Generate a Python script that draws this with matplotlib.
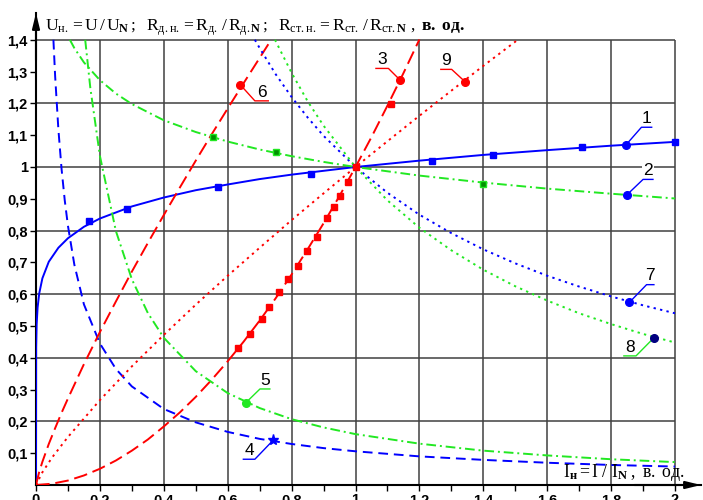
import numpy as np
import matplotlib.pyplot as plt

plt.rcParams['font.family'] = ['Liberation Sans', 'DejaVu Sans']
plt.rcParams['mathtext.fontset'] = 'custom'
plt.rcParams['mathtext.rm'] = 'Liberation Serif'
plt.rcParams['mathtext.it'] = 'Liberation Serif:italic'
plt.rcParams['mathtext.bf'] = 'Liberation Serif:bold'

BLUE = '#0000ff'
RED = '#ff0000'
GREEN = '#22e822'

# 1 - U_н(I_н), solid
x1 = [0, 0.0005, 0.002, 0.005, 0.01, 0.02, 0.04, 0.07, 0.1, 0.15, 0.2, 0.3, 0.4, 0.5,
      0.6, 0.7, 0.8, 0.9, 1.0, 1.2, 1.4, 1.6, 1.8, 2.0]
y1 = [0, 0.433, 0.505, 0.558, 0.602, 0.650, 0.702, 0.746, 0.776, 0.812, 0.838, 0.876,
      0.904, 0.927, 0.945, 0.962, 0.976, 0.988, 1.0, 1.020, 1.038, 1.053, 1.067, 1.079]
x1_mk = [0.166, 0.285, 0.571, 0.86, 1.24, 1.43, 1.71, 2.0]
y1_mk = [0.83, 0.868, 0.938, 0.978, 1.018, 1.038, 1.064, 1.08]

# 2 - dash-dot green
x2 = [0.106, 0.12, 0.15, 0.2, 0.25, 0.3, 0.4, 0.5, 0.6, 0.7, 0.8, 0.9, 1.0, 1.2, 1.4,
      1.6, 1.8, 2.0]
y2 = [1.4, 1.374, 1.329, 1.273, 1.231, 1.198, 1.147, 1.110, 1.080, 1.055, 1.034, 1.016,
      1.0, 0.973, 0.951, 0.932, 0.916, 0.901]
x2_mk = [0.553, 0.751, 1.4]
y2_mk = [1.095, 1.046, 0.948]

# 3 - long dash red with squares
x3 = [0, 0.05, 0.1, 0.15, 0.2, 0.25, 0.3, 0.35, 0.4, 0.45, 0.5, 0.55, 0.6, 0.65, 0.7,
      0.75, 0.8, 0.85, 0.9, 0.95, 1.0, 1.05, 1.1, 1.15, 1.2]
y3 = [0, 0.004, 0.014, 0.030, 0.051, 0.077, 0.108, 0.143, 0.184, 0.228, 0.277, 0.331,
      0.389, 0.451, 0.517, 0.587, 0.662, 0.741, 0.823, 0.909, 1.0, 1.094, 1.193, 1.295,
      1.401]
x3_mk = [0.633, 0.670, 0.706, 0.729, 0.762, 0.790, 0.819, 0.848, 0.879, 0.912, 0.933,
         0.951, 0.977, 1.0, 1.110]
y3_mk = [0.432, 0.474, 0.522, 0.561, 0.606, 0.648, 0.688, 0.736, 0.781, 0.839, 0.875,
         0.910, 0.952, 1.0, 1.198]

# 4 - dashed blue
x4 = [0.0545, 0.06, 0.07, 0.08, 0.09, 0.1, 0.12, 0.15, 0.2, 0.25, 0.3, 0.4, 0.5, 0.6,
      0.7, 0.8, 0.9, 1.0, 1.2, 1.4, 1.6, 1.8, 2.0]
y4 = [1.40, 1.284, 1.119, 0.994, 0.895, 0.815, 0.693, 0.568, 0.445, 0.365, 0.310, 0.239,
      0.197, 0.167, 0.145, 0.129, 0.116, 0.106, 0.090, 0.079, 0.070, 0.063, 0.058]

# 5 - dash-dot green
x5 = [0.154, 0.17, 0.2, 0.25, 0.3, 0.35, 0.4, 0.5, 0.6, 0.7, 0.8, 0.9, 1.0, 1.2, 1.4,
      1.6, 1.8, 2.0]
y5 = [1.40, 1.249, 1.035, 0.799, 0.647, 0.541, 0.463, 0.358, 0.289, 0.242, 0.207,
      0.181, 0.160, 0.130, 0.108, 0.093, 0.081, 0.072]

# 6 - long dash red
x6 = [0, 0.01, 0.02, 0.04, 0.06, 0.08, 0.1, 0.15, 0.2, 0.25, 0.3, 0.35, 0.4, 0.45, 0.5,
      0.55, 0.6, 0.65, 0.7, 0.736]
y6 = [0, 0.041, 0.073, 0.129, 0.179, 0.227, 0.272, 0.380, 0.481, 0.577, 0.671, 0.761,
      0.849, 0.935, 1.020, 1.103, 1.184, 1.264, 1.343, 1.40]

# 7 - dotted blue
x7 = [0.685, 0.7, 0.75, 0.8, 0.85, 0.9, 1.0, 1.1, 1.2, 1.3, 1.4, 1.5, 1.6, 1.7, 1.8,
      1.9, 2.0]
y7 = [1.40, 1.374, 1.292, 1.22, 1.156, 1.098, 1.0, 0.919, 0.850, 0.792, 0.741, 0.697,
      0.658, 0.624, 0.593, 0.565, 0.540]

# 8 - dotted green
x8 = [0.748, 0.8, 0.85, 0.9, 1.0, 1.1, 1.2, 1.3, 1.4, 1.5, 1.6, 1.7, 1.8, 1.9, 2.0]
y8 = [1.40, 1.296, 1.207, 1.130, 1.0, 0.895, 0.809, 0.738, 0.677, 0.625, 0.580, 0.540,
      0.506, 0.475, 0.448]

# 9 - dotted red
x9 = [0, 0.02, 0.05, 0.1, 0.2, 0.3, 0.4, 0.5, 0.6, 0.7, 0.8, 0.9, 1.0, 1.1, 1.2, 1.3,
      1.4, 1.5, 1.507]
y9 = [0, 0.040, 0.086, 0.151, 0.267, 0.373, 0.472, 0.567, 0.658, 0.746, 0.833, 0.917,
      1.0, 1.081, 1.161, 1.240, 1.318, 1.394, 1.40]

xticks = [0, 0.2, 0.4, 0.6, 0.8, 1.0, 1.2, 1.4, 1.6, 1.8, 2.0]
xtick_labels = ['0', '0,2', '0,4', '0,6', '0,8', '1', '1,2', '1,4', '1,6', '1,8', '2']
yticks = [0.1, 0.2, 0.3, 0.4, 0.5, 0.6, 0.7, 0.8, 0.9, 1.0, 1.1, 1.2, 1.3, 1.4]
ytick_labels = ['0,1', '0,2', '0,3', '0,4', '0,5', '0,6', '0,7', '0,8', '0,9', '1',
                '1,1', '1,2', '1,3', '1,4']

# curve labels: number, marker point, elbow point, end of underline
lab_num = ['1', '2', '3', '4', '5', '6', '7', '8', '9']
lab_mark = [(1.847, 1.07), (1.849, 0.912), (1.139, 1.274), (0.743, 0.1415), (0.657, 0.259),
            (0.64, 1.258), (1.857, 0.574), (1.934, 0.463), (1.343, 1.268)]
lab_elbow = [(1.895, 1.125), (1.90, 0.961), (1.103, 1.31), (0.685, 0.081), (0.701, 0.302),
             (0.685, 1.208), (1.911, 0.63), (1.878, 0.406), (1.301, 1.307)]
lab_end = [1.927, 1.931, 1.064, 0.649, 0.732, 0.727, 1.934, 1.84, 1.267]
lab_color = [BLUE, BLUE, RED, BLUE, GREEN, RED, BLUE, GREEN, RED]
lab_mcolor = [BLUE, BLUE, RED, BLUE, GREEN, RED, BLUE, '#000080', RED]

fig = plt.figure(figsize=(7.03, 5.0), dpi=100)
ax = fig.add_axes([36 / 703, 15 / 500, 665 / 703, 472 / 500])
ax.set_xlim(0, 665 / 319.5)
ax.set_ylim(0, 472 / 318)

# grid
grid_x = [0.2, 0.4, 0.6, 0.8, 1.0, 1.2, 1.4, 1.6, 1.8, 2.0]
grid_y = [0.2, 0.4, 0.6, 0.8, 1.0, 1.2, 1.4]
ax.vlines(grid_x, 0, 1.4, color='#404040', lw=1.1, zorder=1)
ax.hlines(grid_y, 0, 2.0, color='#404040', lw=1.1, zorder=1)

lw = 1.4
dash_long = (0, (7, 3))
dash_mid = (0, (5, 3))
dash_dot = (0, (5, 2, 1, 2))
dot = (0, (1.2, 2.2))

ax.plot(x1, y1, color=BLUE, lw=lw, zorder=3)
ax.plot(x1_mk, y1_mk, 's', color=BLUE, ms=4.5, zorder=4)
ax.plot(x2, y2, color=GREEN, lw=lw, ls=dash_dot, zorder=3)
ax.plot(x2_mk, y2_mk, 's', color='#009000', mec=GREEN, ms=4.5, zorder=4)
ax.plot(x3, y3, color=RED, lw=lw, ls=dash_long, zorder=3)
ax.plot(x3_mk, y3_mk, 's', color=RED, ms=5, zorder=4)
ax.plot(x4, y4, color=BLUE, lw=lw, ls=dash_mid, zorder=3)
ax.plot(x5, y5, color=GREEN, lw=lw, ls=dash_dot, zorder=3)
ax.plot(x6, y6, color=RED, lw=lw, ls=dash_long, zorder=3)
ax.plot(x7, y7, color=BLUE, lw=lw, ls=dot, zorder=3)
ax.plot(x8, y8, color=GREEN, lw=lw, ls=dot, zorder=3)
ax.plot(x9, y9, color=RED, lw=lw, ls=dot, zorder=3)

for i in range(len(lab_num)):
    mx, my = lab_mark[i]
    ex, ey = lab_elbow[i]
    ux = lab_end[i]
    ax.plot([mx, ex, ux], [my, ey, ey], color=lab_color[i], lw=1.0, zorder=6)
    mk = '*' if lab_num[i] == '4' else 'o'
    ax.plot(mx, my, mk, color=lab_mcolor[i], ms=5.5 if mk == 'o' else 8, zorder=6)
    ax.text((ex + ux) / 2, ey + 0.004, lab_num[i], ha='center', va='bottom',
            fontsize=12.5, zorder=5,
            bbox=dict(facecolor='white', edgecolor='none', pad=0.5))

# axes
for s in ['top', 'right']:
    ax.spines[s].set_visible(False)
for s in ['left', 'bottom']:
    ax.spines[s].set_linewidth(1.5)
ax.annotate('', xy=(0, 1.0), xytext=(0, 0.9), xycoords='axes fraction',
            arrowprops=dict(arrowstyle='-|>,head_length=0.9,head_width=0.22',
                            color='black', lw=1.5, shrinkA=0, shrinkB=0))
ax.annotate('', xy=(1.0, 0), xytext=(0.9, 0), xycoords='axes fraction',
            arrowprops=dict(arrowstyle='-|>,head_length=0.9,head_width=0.22',
                            color='black', lw=1.5, shrinkA=0, shrinkB=0))

ax.set_yticks(yticks)
ax.set_yticklabels(ytick_labels, fontsize=10.5, fontweight='bold')
ax.set_xticks(xticks)
ax.set_xticklabels(xtick_labels, fontsize=10.5, fontweight='bold')
ax.set_xticks(np.arange(0.1, 2.0, 0.2), minor=True)
ax.tick_params(axis='y', length=4, width=1, pad=2)
ax.tick_params(axis='x', which='both', length=4, width=1, pad=2)

fig.text(45 / 703, 1 - 31 / 500,
         r'$\mathrm{U_{н.}}=\mathrm{U}\,/\,\mathrm{U}_{\mathbf{N}}\,;\ \ '
         r'\mathrm{R_{д.н.}}=\mathrm{R_{д.}}\,/\,\mathrm{R}_{\mathrm{д.}\mathbf{N}}\,;\ \ '
         r'\mathrm{R_{ст.н.}}=\mathrm{R_{ст.}}\,/\,\mathrm{R}_{\mathrm{ст.}\mathbf{N}}\ ,\ '
         r'\mathbf{в.\ од.}$',
         fontsize=12.6, va='baseline', ha='left')
fig.text(563 / 703, 1 - 477 / 500,
         r'$\mathrm{I}_{\mathbf{н}}=\mathrm{I}\ /\ \mathrm{I}_{\mathbf{N}}\ ,\ \mathrm{в.\ од.}$',
         fontsize=12.8, va='baseline', ha='left')

fig.savefig('out.png', dpi=100)
